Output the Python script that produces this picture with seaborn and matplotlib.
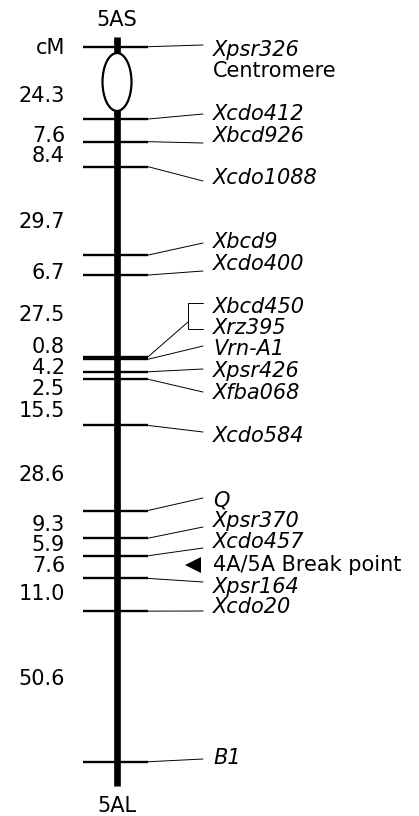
import numpy as np
import pandas as pd
import matplotlib
matplotlib.use("Agg")
import matplotlib.pyplot as plt
from matplotlib.patches import Ellipse
import seaborn as sns

# genetic map of chromosome 5A (intervals in cM between neighbouring markers)
markers = ["Xpsr326", "Xcdo412", "Xbcd926", "Xcdo1088", "Xbcd9", "Xcdo400",
           "Xbcd450/Xrz395", "Vrn-A1", "Xpsr426", "Xfba068", "Xcdo584", "Q",
           "Xpsr370", "Xcdo457", "Xpsr164", "Xcdo20", "B1"]
intervals = [24.3, 7.6, 8.4, 29.7, 6.7, 27.5, 0.8, 4.2, 2.5, 15.5,
             28.6, 9.3, 5.9, 7.6, 11.0, 50.6]
interval_labels = ["24.3", "7.6", "8.4", "29.7", "6.7", "27.5", "0.8", "4.2",
                   "2.5", "15.5", "28.6", "9.3", "5.9", "7.6", "11.0", "50.6"]

df = pd.DataFrame({"marker": markers,
                   "pos": np.concatenate([[0], np.cumsum(intervals)])})

# layout (pixel rows of the 816 px tall picture)
TOP, SCALE = 46.7, 2.977
def px(v):
    return (v - TOP) / SCALE

label_rows = [50, 114, 136, 178, 242, 264, None, 349, 371, 393, 436, 500,
              521, 542, 587, 607, 758]
line_ends = [45, 114, 143, 181, 243, 271, 322, 346, 369, 392, 432, 498,
             527, 548, 582, 611, 759]
dist_rows = [96, 136, 156, 222, 273, 315, 347, 368, 389, 411, 475, 525,
             545, 566, 594, 679]

sns.set_theme(style="white")
plt.rcParams["font.family"] = ["DejaVu Sans"]
plt.rcParams["text.color"] = "black"
FS = 15

fig = plt.figure(figsize=(4.19, 8.16), dpi=100)
ax = fig.add_axes([0, 0, 1, 1])
ax.set_xlim(0, 419)
ax.set_ylim(px(816), px(0))
ax.axis("off")

# chromosome
ax.plot([117, 117], [px(37), px(786)], color="black", lw=4.8,
        solid_capstyle="butt", zorder=2)
ax.add_patch(Ellipse((117, px(82)), 29, 58 / SCALE, facecolor="white",
                     edgecolor="black", lw=1.6, zorder=3))

# marker ticks and connectors
ax.hlines(df["pos"], 83, 148, color="black", lw=1.7, zorder=4)
for i, row in df.iterrows():
    if i == 6:
        ax.plot([148, 188], [row["pos"], px(line_ends[i])], color="black", lw=0.7)
        ax.plot([203, 188, 188, 203], [px(303), px(303), px(329), px(329)],
                color="black", lw=0.7)
        ax.text(213, px(307), "Xbcd450", fontsize=FS, style="italic", va="center")
        ax.text(213, px(328), "Xrz395", fontsize=FS, style="italic", va="center")
        continue
    ax.plot([148, 203], [row["pos"], px(line_ends[i])], color="black", lw=0.7)
    ax.text(213, px(label_rows[i]), row["marker"], fontsize=FS,
            style="italic", va="center")

ax.text(213, px(71), "Centromere", fontsize=FS, va="center")

# break point
ax.plot([193], [px(565)], marker="<", color="black", ms=11, mew=0)
ax.text(213, px(565), "4A/5A Break point", fontsize=FS, va="center")

# distances
ax.text(65, px(48), "cM", fontsize=FS, ha="right", va="center")
for lab, r in zip(interval_labels, dist_rows):
    ax.text(65, px(r), lab, fontsize=FS, ha="right", va="center")

ax.text(117, px(20), "5AS", fontsize=FS, ha="center", va="center")
ax.text(117, px(806), "5AL", fontsize=FS, ha="center", va="center")

fig.savefig("out.png", dpi=100, facecolor="white")
